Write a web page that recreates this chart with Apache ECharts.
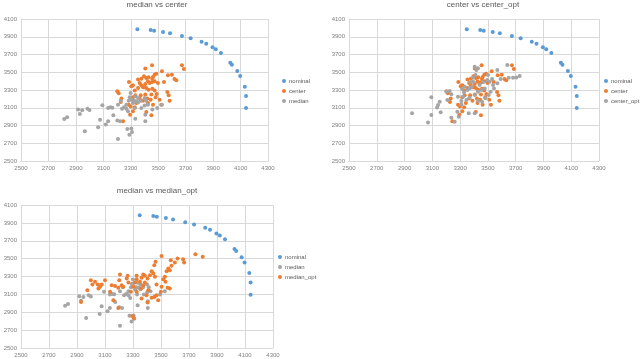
<!DOCTYPE html>
<html>
<head>
<meta charset="utf-8">
<script src="https://cdn.jsdelivr.net/npm/echarts@6/dist/echarts.min.js"></script>
<style>
  html, body { margin: 0; padding: 0; background: #fff; }
  #main { width: 640px; height: 359px; }
</style>
</head>
<body>
<div id="main"></div>
<script>
// 数据: [x, y]
var nominal = [
  [3348,3984],[3445,3976],[3470,3969],[3535,3954],[3586,3939],[3673,3908],[3736,3882],
  [3816,3845],[3850,3822],[3896,3781],[3920,3758],[3957,3717],[4025,3608],[4037,3585],
  [4076,3514],[4097,3458],[4131,3338],[4140,3232],[4140,3097]
];
var center = [
  [3455,3578],[3673,3578],[3687,3537],[3406,3541],[3527,3511],[3571,3466],[3600,3473],
  [3619,3424],[3632,3409],[3474,3473],[3486,3484],[3462,3447],[3457,3428],[3430,3443],
  [3413,3436],[3396,3454],[3377,3428],[3353,3417],[3287,3391],[3316,3353],[3365,3379],
  [3377,3353],[3389,3330],[3406,3368],[3425,3398],[3438,3379],[3455,3391],[3474,3398],
  [3498,3379],[3542,3391],[3413,3323],[3430,3304],[3457,3315],[3474,3293],[3489,3255],
  [3566,3278],[3576,3240],[3583,3180],[3510,3191],[3481,3218],[3450,3248],[3445,3191],
  [3425,3154],[3421,3203],[3389,3180],[3365,3203],[3372,3240],[3333,3240],[3316,3218],
  [3202,3285],[3212,3263],[3232,3203],[3227,3165],[3285,3135],[3299,3113],[3329,3105],
  [3316,3060],[3295,3022],[3244,2947],[3413,3053],[3450,3015],[3396,3330],[3353,3323],
  [3329,3293],[3304,3342],[3406,3248],[3462,3135],[3522,3135],[3341,3154]
];
var median = [
  [2815,2974],[2836,2992],[2916,3079],[2946,3071],[2929,3030],[2984,3090],[2999,3075],
  [3093,3128],[3135,3098],[3152,3105],[3166,3101],[2965,2835],[3062,2880],[3076,2966],
  [3118,2910],[3135,2947],[3173,3015],[3202,2955],[3222,2947],[3207,2748],[3275,2861],
  [3304,2865],[3309,2827],[3290,2797],[3333,2977],[3406,2947],[3406,3022],[3457,3079],
  [3493,3098],[3527,3135],[3425,3135],[3401,3124],[3377,3098],[3299,3267],[3292,3218],
  [3304,3191],[3324,3180],[3341,3173],[3353,3158],[3316,3154],[3285,3180],[3268,3135],
  [3251,3105],[3236,3090],[3268,3090],[3280,3060],[3207,3135],[3227,3180],[3333,3229],
  [3353,3210],[3372,3180],[3401,3210],[3413,3180],[3329,3098]
];
var centerOpt = [
  [2954,3037],[3069,2935],[3093,3018],[3093,3217],[3134,3104],[3153,3168],[3141,3131],
  [3160,3048],[3201,3281],[3225,3288],[3237,3251],[3208,3187],[3237,2988],[3261,2943],
  [3280,3055],[3290,3000],[3309,3138],[3309,3176],[3321,3225],[3328,3273],[3352,3300],
  [3369,3318],[3386,3337],[3393,3393],[3405,3563],[3417,3525],[3429,3544],[3410,3469],
  [3393,3439],[3376,3386],[3362,3037],[3405,3037],[3345,3187],[3369,3213],[3405,3243],
  [3429,3281],[3453,3300],[3477,3318],[3441,3356],[3465,3386],[3496,3412],[3482,3206],
  [3506,3243],[3520,3281],[3537,3356],[3544,3318],[3513,3393],[3568,3525],[3501,3469],
  [3530,3424],[3568,3375],[3592,3424],[3640,3581],[3650,3439],[3681,3439],[3705,3442],
  [3729,3457],[3429,3176],[3458,3168],[3285,3225],[3333,3337],[3314,3311]
];
var medianOpt = [
  [3746,3550],[3798,3520],[3504,3528],[3570,3483],[3618,3502],[3658,3494],[3665,3457],
  [3599,3457],[3575,3419],[3552,3389],[3563,3371],[3540,3360],[3528,3296],[3516,3270],
  [3532,3240],[3563,3165],[3547,3173],[3504,3184],[3499,3128],[3468,3090],[3452,3072],
  [3433,3061],[3480,3034],[3461,3464],[3452,3427],[3433,3360],[3445,3333],[3421,3315],
  [3457,3296],[3468,3210],[3404,3277],[3385,3307],[3373,3322],[3361,3285],[3385,3232],
  [3373,3203],[3357,3165],[3409,3147],[3397,3090],[3361,3053],[3404,3008],[3326,3307],
  [3326,3270],[3314,3232],[3302,3184],[3285,3128],[3267,3232],[3262,3307],[3255,3277],
  [3207,3322],[3202,3259],[3219,3203],[3231,3184],[3195,3173],[3172,3195],[3148,3203],
  [3100,3259],[3077,3210],[3065,3184],[3048,3210],[3029,3240],[2999,3259],[3010,3210],
  [3053,3165],[2974,3147],[2929,3016],[3136,3128],[3160,3034],[3195,2948],[3295,2859],
  [3305,2836],[3326,3128],[3350,3240]
];

var titles = ['median vs center', 'center vs center_opt', 'median vs median_opt'];
var xMin = 2500, xMax = 4300, yMin = 2500, yMax = 4100, step = 200;

var BLUE = '#5B9BD5', ORANGE = '#ED7D31', GRAY = '#A5A5A5';
var FONT = 'Liberation Sans';

// 三个图的位置
var grids = [
  {left: 21, top: 19, width: 247, height: 142},
  {left: 349, top: 19, width: 250, height: 142},
  {left: 21, top: 205, width: 252, height: 143}
];
var titlePos = [[157, 1], [483, 1], [157, 187]];
var legendPos = [[282, 78], [604, 78], [278, 254]];
var legendNames = [
  ['nominal', 'center', 'median'],
  ['nominal', 'center', 'center_opt'],
  ['nominal', 'median', 'median_opt']
];
var seriesData = [
  [[nominal, BLUE], [center, ORANGE], [median, GRAY]],
  [[nominal, BLUE], [center, ORANGE], [centerOpt, GRAY]],
  [[nominal, BLUE], [median, GRAY], [medianOpt, ORANGE]]
];

var option = {
  backgroundColor: '#fff',
  animation: false,
  textStyle: {fontFamily: FONT},
  title: [], grid: [], xAxis: [], yAxis: [], legend: [], series: []
};

function axis(idx, min, max) {
  return {
    type: 'value', gridIndex: idx, min: min, max: max, interval: step,
    axisLine: {show: true, lineStyle: {color: '#D9D9D9', width: 1}},
    axisTick: {show: false},
    splitLine: {show: true, lineStyle: {color: '#D9D9D9', width: 1}},
    axisLabel: {
      fontSize: 6, color: '#7F7F7F', margin: 4, fontFamily: FONT,
      formatter: function (v) { return String(v); }
    }
  };
}

for (var i = 0; i < 3; i++) {
  option.title.push({
    text: titles[i], left: titlePos[i][0], top: titlePos[i][1], textAlign: 'center',
    padding: 0,
    textStyle: {fontSize: 8, fontWeight: 'normal', color: '#595959', fontFamily: FONT}
  });
  option.grid.push(grids[i]);
  option.xAxis.push(axis(i, xMin, xMax));
  option.yAxis.push(axis(i, yMin, yMax));
  option.legend.push({
    orient: 'vertical', left: legendPos[i][0], top: legendPos[i][1], padding: 0,
    icon: 'circle', itemWidth: 4, itemHeight: 4, itemGap: 4,
    data: legendNames[i],
    textStyle: {fontSize: 6, color: '#595959', padding: [0, 0, 0, -2], fontFamily: FONT}
  });
  for (var k = 0; k < 3; k++) {
    option.series.push({
      name: legendNames[i][k], type: 'scatter',
      xAxisIndex: i, yAxisIndex: i,
      symbolSize: 4,
      itemStyle: {color: seriesData[i][k][1], opacity: 1},
      data: seriesData[i][k][0]
    });
  }
}

var chart = echarts.init(document.getElementById('main'));
chart.setOption(option);
</script>
</body>
</html>
